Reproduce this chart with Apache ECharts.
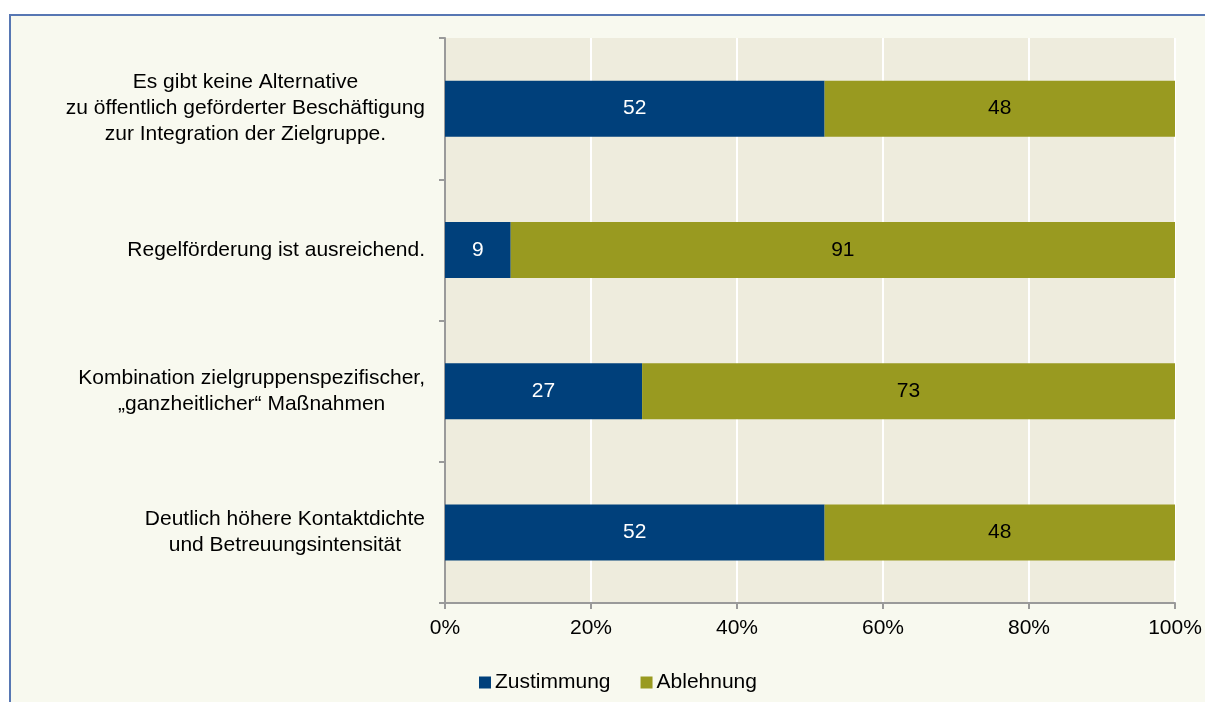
<!DOCTYPE html>
<html>
<head>
<meta charset="utf-8">
<script src="https://cdn.jsdelivr.net/npm/echarts@6/dist/echarts.min.js"></script>
<style>
  html, body { margin: 0; padding: 0; background: #ffffff; }
  #chart { width: 1205px; height: 702px; }
</style>
</head>
<body>
<div id="chart"></div>
<script>
// Aussagen (von oben nach unten)
var categories = [
  'Es gibt keine Alternative\nzu öffentlich geförderter Beschäftigung\nzur Integration der Zielgruppe.',
  'Regelförderung ist ausreichend.',
  'Kombination zielgruppenspezifischer,\n„ganzheitlicher“ Maßnahmen',
  'Deutlich höhere Kontaktdichte\nund Betreuungsintensität'
]
var zustimmung = [52, 9, 27, 52]
var ablehnung = [48, 91, 73, 48]
var xTicks = [0, 20, 40, 60, 80, 100]

var FONT = '"Liberation Sans", Arial, sans-serif'
var FS = 21

var chart = echarts.init(document.getElementById('chart'))

var option = {
  backgroundColor: '#ffffff',
  textStyle: { fontFamily: FONT },
  animation: false,
  graphic: [
    {
      type: 'rect',
      z: -100,
      shape: { x: 10, y: 15, width: 1210, height: 700 },
      style: { fill: '#f8f9ef', stroke: '#5777b3', lineWidth: 2 }
    }
  ],
  grid: {
    left: 445,
    right: 30,
    top: 38,
    bottom: 99,
    show: true,
    backgroundColor: '#eeecdd',
    borderWidth: 0
  },
  legend: {
    left: 474,
    top: 667,
    icon: 'rect',
    itemWidth: 12,
    itemHeight: 12,
    itemGap: 30,
    textStyle: { fontSize: FS, color: '#000', fontFamily: FONT, padding: [0, 0, 0, -1] },
    data: ['Zustimmung', 'Ablehnung']
  },
  xAxis: {
    type: 'value',
    min: 0,
    max: 100,
    interval: 20,
    axisLine: { show: true, lineStyle: { color: '#9a9a9a', width: 2 } },
    axisTick: { show: true, length: 6, lineStyle: { color: '#9a9a9a', width: 2 } },
    axisLabel: {
      formatter: function (v) { return xTicks.indexOf(v) >= 0 ? v + '%' : '' },
      fontSize: FS,
      color: '#000',
      margin: 15,
      fontFamily: FONT
    },
    splitLine: { show: true, lineStyle: { color: '#ffffff', width: 2 } }
  },
  yAxis: {
    type: 'category',
    inverse: true,
    data: categories,
    axisLine: { show: true, lineStyle: { color: '#9a9a9a', width: 2 } },
    axisTick: { show: true, length: 6, lineStyle: { color: '#9a9a9a', width: 2 } },
    axisLabel: {
      margin: 20,
      align: 'right',
      color: '#000',
      formatter: function (v) {
        return v.split('\n').map(function (l) { return '{c|' + l + '}' }).join('\n')
      },
      rich: {
        c: { align: 'center', fontSize: FS, lineHeight: 26, color: '#000', fontFamily: FONT }
      }
    }
  },
  series: [
    {
      name: 'Zustimmung',
      type: 'bar',
      stack: 'total',
      barWidth: 56,
      data: zustimmung,
      itemStyle: { color: '#00407b' },
      label: { show: true, position: 'inside', color: '#ffffff', fontSize: FS, fontFamily: FONT }
    },
    {
      name: 'Ablehnung',
      type: 'bar',
      stack: 'total',
      barWidth: 56,
      data: ablehnung,
      itemStyle: { color: '#999a20' },
      label: { show: true, position: 'inside', color: '#000000', fontSize: FS, fontFamily: FONT }
    }
  ]
}

chart.setOption(option)
</script>
</body>
</html>
